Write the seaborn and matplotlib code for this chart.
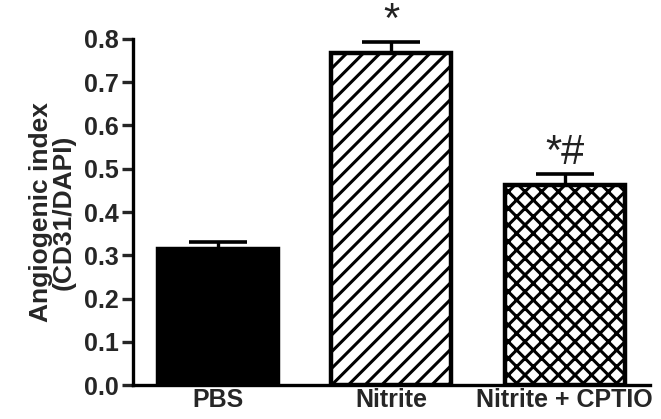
import matplotlib
matplotlib.use("Agg")
import matplotlib.pyplot as plt
import seaborn as sns
import pandas as pd

groups = ["PBS", "Nitrite", "Nitrite + CPTIO"]
means = [0.315, 0.768, 0.463]
sems = [0.016, 0.025, 0.025]
marks = ["", "*", "*#"]
yticks = [0.0, 0.1, 0.2, 0.3, 0.4, 0.5, 0.6, 0.7, 0.8]

sns.set_theme(style="ticks")
plt.rcParams["font.family"] = ["Liberation Sans", "DejaVu Sans"]
plt.rcParams["hatch.linewidth"] = 2.2

df = pd.DataFrame({"group": groups, "mean": means})

fig = plt.figure(figsize=(6.61, 4.19), dpi=100)
ax = fig.add_axes([0.201, 0.081, 0.782, 0.826])

sns.barplot(data=df, x="group", y="mean", order=groups, errorbar=None,
            width=0.69, ax=ax, color="white", saturation=1)

fills = ["black", "white", "white"]
hatches = [None, "//", "xx"]
for p, fc, h in zip(ax.patches, fills, hatches):
    p.set_facecolor(fc)
    p.set_edgecolor("black")
    p.set_linewidth(3.2)
    if h:
        p.set_hatch(h)

xs = range(len(groups))
ax.errorbar(list(xs), means, yerr=[[0]*3, sems], fmt="none", ecolor="black",
            elinewidth=2.4, capsize=21, capthick=2.6, zorder=1)

for x, m, s, t in zip(xs, means, sems, marks):
    if t:
        ax.text(x, m + s + 0.002, t, ha="center", va="bottom",
                fontsize=30, color="#222222")

ax.set_xlim(-0.49, 2.49)
ax.set_ylim(0, 0.8)
ax.set_yticks(yticks)
ax.set_yticklabels([f"{v:.1f}" for v in yticks], fontsize=18, fontweight="bold")
ax.set_xticks(list(xs))
ax.set_xticklabels(groups, fontsize=18, fontweight="bold")
ax.tick_params(axis="x", length=0, pad=2)
ax.tick_params(axis="y", length=8, width=2.4, pad=2)
ax.set_xlabel("")
ax.set_ylabel("Angiogenic index\n(CD31/DAPI)", fontsize=19, fontweight="bold",
              linespacing=0.95, labelpad=6)
for sp in ["top", "right"]:
    ax.spines[sp].set_visible(False)
for sp in ["left", "bottom"]:
    ax.spines[sp].set_linewidth(2.4)
    ax.spines[sp].set_color("black")

fig.savefig("out.png", dpi=100)
